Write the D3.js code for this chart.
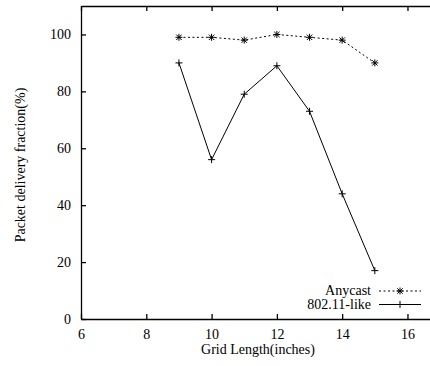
<!DOCTYPE html>
<html>
<head>
<meta charset="utf-8">
<script src="https://cdn.jsdelivr.net/npm/d3@7"></script>
<style>
  body { margin: 0; background: #fff; }
</style>
</head>
<body>
<svg width="430" height="366"></svg>
<script>
var gridLength = [9, 10, 11, 12, 13, 14, 15]
var anycast = [99, 99, 98, 100, 99, 98, 90]
var like80211 = [90, 56, 79, 89, 73, 44, 17]
var xTicks = [6, 8, 10, 12, 14, 16]
var yTicks = [0, 20, 40, 60, 80, 100]

var fontFam = "'Liberation Serif', 'Times New Roman', Times, 'DejaVu Serif', serif"

var svg = d3.select("svg")
var margin = {top: 6, right: 0, bottom: 47, left: 81}
var width = 430
var height = 366

var xScale = d3.scaleLinear().domain([6, 16.69]).range([margin.left, width - margin.right])
var yScale = d3.scaleLinear().domain([0, 110]).range([height - margin.bottom, margin.top])

var series = [
  {name: "Anycast", values: anycast, dash: "2,2.5", marker: "star"},
  {name: "802.11-like", values: like80211, dash: null, marker: "plus"}
]

function drawMarker(g, x, y, type) {
  var s = 3.5
  var p = `M${x - s},${y}H${x + s}M${x},${y - s}V${y + s}`
  if (type == "star") {
    var d = 2.7
    p += `M${x - d},${y - d}L${x + d},${y + d}M${x - d},${y + d}L${x + d},${y - d}`
  }
  g.append("path").attr("d", p).attr("stroke", "#000").attr("stroke-width", 1).attr("fill", "none")
}

// lijnen + markers
var line = d3.line().x((d, i) => xScale(gridLength[i])).y(d => yScale(d))

series.forEach(s => {
  svg.append("path")
    .datum(s.values)
    .attr("d", line)
    .attr("fill", "none")
    .attr("stroke", "#000")
    .attr("stroke-width", 1)
    .attr("stroke-dasharray", s.dash)
  var g = svg.append("g")
  s.values.forEach((v, i) => drawMarker(g, xScale(gridLength[i]), yScale(v), s.marker))
})

// assen
var xAxis = d3.axisBottom(xScale).tickValues(xTicks).tickSize(-5).tickSizeOuter(0).tickPadding(10)
var xTop = d3.axisTop(xScale).tickValues(xTicks).tickSize(-5).tickSizeOuter(0).tickFormat("")
var yAxis = d3.axisLeft(yScale).tickValues(yTicks).tickSize(-5).tickSizeOuter(0).tickPadding(10)

function styleAxis(g) {
  g.selectAll("path, line").attr("stroke", "#000").attr("stroke-width", 1.3)
  g.attr("font-family", fontFam).attr("font-size", 14)
  g.selectAll("text").style("font-family", fontFam).style("font-size", "14px").attr("fill", "#000")
}

svg.append("g")
  .attr("transform", `translate(0,${height - margin.bottom})`)
  .call(xAxis).call(styleAxis)

svg.append("g")
  .attr("transform", `translate(0,${margin.top})`)
  .call(xTop).call(styleAxis)

svg.append("g")
  .attr("transform", `translate(${margin.left},0)`)
  .call(yAxis).call(styleAxis)

function label(t) {
  return t.style("font-family", fontFam).style("font-size", "14px").attr("fill", "#000")
}

// as labels
svg.append("text")
  .attr("x", 258)
  .attr("y", 354)
  .style("text-anchor", "middle")
  .text("Grid Length(inches)")
  .call(label)

svg.append("text")
  .attr("transform", "rotate(-90)")
  .attr("x", -165)
  .attr("y", 25)
  .style("text-anchor", "middle")
  .text("Packet delivery fraction(%)")
  .call(label)

// legenda
series.forEach((s, i) => {
  var ly = 291 + i * 13.5
  svg.append("text")
    .attr("x", 371)
    .attr("y", ly + 4)
    .style("text-anchor", "end")
    .text(s.name)
    .call(label)
  svg.append("line")
    .attr("x1", 379).attr("x2", 421)
    .attr("y1", ly).attr("y2", ly)
    .attr("stroke", "#000")
    .attr("stroke-width", 1)
    .attr("stroke-dasharray", s.dash)
  drawMarker(svg, 400, ly, s.marker)
})
</script>
</body>
</html>
